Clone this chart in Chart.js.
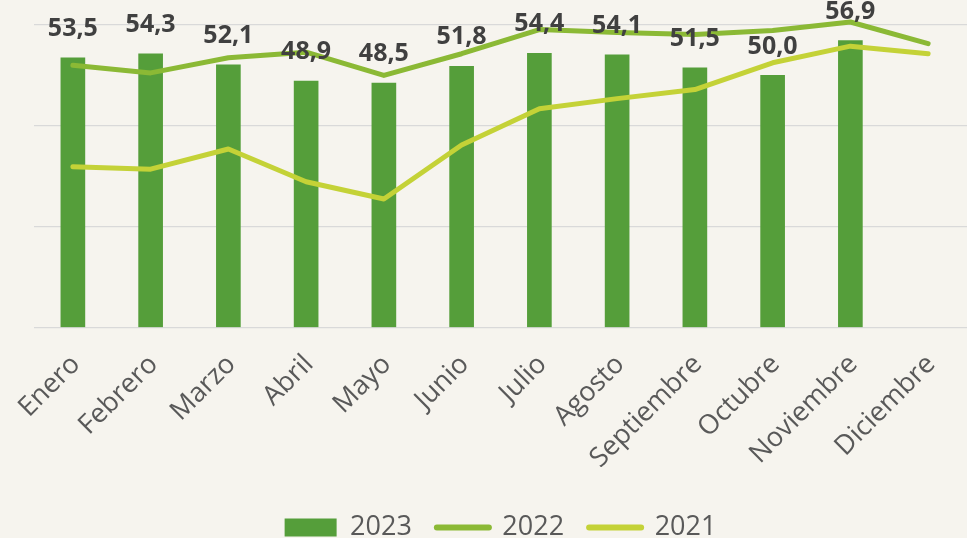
<!DOCTYPE html>
<html>
<head>
<meta charset="utf-8">
<script src="https://cdn.jsdelivr.net/npm/chart.js@4.4.1/dist/chart.umd.min.js"></script>
<style>
  html, body { margin: 0; padding: 0; background: #f6f4ee; overflow: hidden; }
  #wrap { width: 967px; height: 538px; overflow: hidden; }
</style>
</head>
<body>
<div id="wrap"><canvas id="chart" width="967" height="551"></canvas></div>
<script>
const months = ['Enero', 'Febrero', 'Marzo', 'Abril', 'Mayo', 'Junio', 'Julio', 'Agosto', 'Septiembre', 'Octubre', 'Noviembre', 'Diciembre'];
const values2023 = [53.5, 54.3, 52.1, 48.9, 48.5, 51.8, 54.4, 54.1, 51.5, 50.0, 56.9, null];
const values2022 = [52.0, 50.5, 53.5, 54.6, 50.0, 54.3, 59.1, 58.5, 58.1, 58.9, 60.6, 56.3];
const values2021 = [31.9, 31.4, 35.4, 28.9, 25.5, 36.2, 43.4, 45.4, 47.2, 52.5, 55.8, 54.3];
const yTicks = [0, 20, 40, 60];

// value labels over the 2023 bars, comma decimals
const barLabels = {
  id: 'barLabels',
  afterDatasetsDraw(chart) {
    const c = chart.ctx;
    const meta = chart.getDatasetMeta(0);
    c.save();
    c.font = 'bold 25px "Open Sans"';
    c.fillStyle = '#404040';
    c.textAlign = 'center';
    c.textBaseline = 'middle';
    meta.data.forEach((bar, i) => {
      const v = values2023[i];
      if (v == null) return;
      c.fillText(v.toFixed(1).replace('.', ','), bar.x, bar.y - 29);
    });
    c.restore();
  }
};

new Chart(document.getElementById('chart'), {
  type: 'bar',
  data: {
    labels: months,
    datasets: [
      {
        label: '2023',
        data: values2023,
        backgroundColor: '#559e3a',
        barThickness: 24,
        order: 2
      },
      {
        type: 'line',
        label: '2022',
        data: values2022,
        borderColor: '#8bb935',
        backgroundColor: '#8bb935',
        borderWidth: 5,
        pointRadius: 0,
        tension: 0,
        borderCapStyle: 'round',
        borderJoinStyle: 'round',
        clip: false,
        order: 1
      },
      {
        type: 'line',
        label: '2021',
        data: values2021,
        borderColor: '#c4d237',
        backgroundColor: '#c4d237',
        borderWidth: 5,
        pointRadius: 0,
        tension: 0,
        borderCapStyle: 'round',
        borderJoinStyle: 'round',
        clip: false,
        order: 0
      }
    ]
  },
  options: {
    responsive: false,
    devicePixelRatio: 1,
    animation: false,
    layout: { padding: { left: 34, right: 0, top: 25, bottom: 0 } },
    scales: {
      x: {
        grid: { display: false },
        border: { display: false },
        ticks: {
          autoSkip: false,
          maxRotation: 45,
          minRotation: 45,
          labelOffset: 3,
          padding: 13,
          color: '#595959',
          font: { family: '"Open Sans"', size: 27 }
        },
        afterFit(scale) { scale.height = 161.5; }
      },
      y: {
        min: 0,
        max: 60,
        afterBuildTicks(scale) { scale.ticks = yTicks.map(v => ({ value: v })); },
        ticks: { display: false },
        border: { display: false },
        grid: { color: '#d9d9d9', lineWidth: 1.3, drawTicks: false }
      }
    },
    plugins: {
      tooltip: { enabled: false },
      legend: {
        position: 'bottom',
        labels: {
          usePointStyle: true,
          pointStyleWidth: 52,
          boxHeight: 18,
          padding: 25,
          color: '#595959',
          font: { family: '"Open Sans"', size: 27 },
          sort: (a, b) => a.datasetIndex - b.datasetIndex,
          generateLabels(chart) {
            const items = Chart.defaults.plugins.legend.labels.generateLabels(chart);
            items.forEach(it => {
              if (it.datasetIndex === 0) {
                it.pointStyle = 'rect';
                it.lineWidth = 0;
              } else {
                it.pointStyle = 'line';
                it.lineWidth = 6;
                it.lineCap = 'round';
              }
            });
            return items;
          }
        }
      }
    }
  },
  plugins: [barLabels]
});
</script>
</body>
</html>
